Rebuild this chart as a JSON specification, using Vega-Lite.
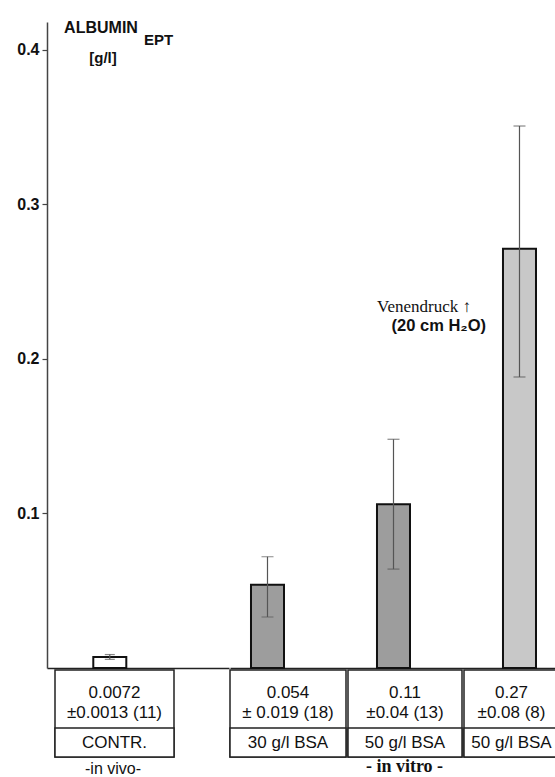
{
  "$schema": "https://vega.github.io/schema/vega-lite/v6.json",
  "padding": {"left": 13, "top": 20, "right": 0, "bottom": 0},
  "background": "white",
  "config": {
    "view": {"stroke": null},
    "concat": {"spacing": 0},
    "font": "Liberation Sans",
    "text": {"font": "Liberation Sans", "color": "#111"},
    "title": {"color": "#111"}
  },
  "datasets": {
    "albumin": [
      {"id": "contr", "group": "in vivo", "label": "CONTR.", "condition": "control", "value": 0.0071, "lo": 0.0056, "hi": 0.0087, "stats": "0.0072\n±0.0013 (11)"},
      {"id": "bsa30", "group": "in vitro", "label": "30 g/l BSA", "condition": "30 g/l BSA", "value": 0.0539, "lo": 0.033, "hi": 0.072, "stats": "0.054\n± 0.019 (18)"},
      {"id": "bsa50", "group": "in vitro", "label": "50 g/l BSA", "condition": "50 g/l BSA", "value": 0.1059, "lo": 0.064, "hi": 0.148, "stats": "0.11\n±0.04 (13)"},
      {"id": "bsa50v", "group": "in vitro", "label": "50 g/l BSA", "condition": "50 g/l BSA + Venendruck", "value": 0.2713, "lo": 0.1883, "hi": 0.3507, "stats": "0.27\n±0.08 (8)"}
    ]
  },
  "spacing": 0,
  "resolve": {"scale": {"x": "independent", "y": "independent"}},
  "hconcat": [
    {
      "spacing": 0,
      "resolve": {"scale": {"x": "independent", "y": "independent"}},
      "vconcat": [
        {
          "width": 182,
          "height": 646,
          "data": {"name": "albumin"},
          "transform": [{"filter": "datum.group === 'in vivo'"}],
          "encoding": {
            "x": {"field": "id", "type": "nominal", "title": null,
              "scale": {"paddingInner": 0.738, "paddingOuter": 0.5912, "align": 0.3107},
              "axis": {"labels": false, "ticks": false, "domainColor": "#222", "domainWidth": 1.5}}
          },
          "layer": [
            {
              "mark": {"type": "bar", "stroke": "#111", "strokeWidth": 2},
              "encoding": {
                "y": {"field": "value", "type": "quantitative", "title": null,
                  "scale": {"domain": [0, 0.418], "nice": false, "zero": true},
                  "axis": {"values": [0.1, 0.2, 0.3, 0.4], "format": ".1f", "grid": false,
                    "tickSize": 5, "tickColor": "#444", "tickWidth": 1.2,
                    "domainColor": "#444", "domainWidth": 1.5,
                    "labelPadding": 3, "labelFont": "Liberation Sans", "labelFontSize": 16,
                    "labelFontWeight": "bold", "labelColor": "#111",
                    "minExtent": 34, "maxExtent": 34}},
                "fill": {"field": "condition", "type": "nominal", "legend": null,
                  "scale": {"domain": ["control", "30 g/l BSA", "50 g/l BSA", "50 g/l BSA + Venendruck"],
                    "range": ["#ffffff", "#9d9d9d", "#9d9d9d", "#c8c8c8"]}}
              }
            },
            {
              "mark": {"type": "rule", "color": "#555", "strokeWidth": 1.2},
              "encoding": {
                "y": {"field": "lo", "type": "quantitative", "title": null},
                "y2": {"field": "hi"}
              }
            },
            {
              "mark": {"type": "tick", "color": "#555", "size": 10, "thickness": 1.2},
              "encoding": {"y": {"field": "lo", "type": "quantitative", "title": null}}
            },
            {
              "mark": {"type": "tick", "color": "#555", "size": 10, "thickness": 1.2},
              "encoding": {"y": {"field": "hi", "type": "quantitative", "title": null}}
            },
            {
              "mark": {"type": "text", "fontSize": 16, "fontWeight": "bold", "align": "center", "baseline": "middle", "dx": -8.8},
              "encoding": {"text": {"value": "ALBUMIN"}, "y": {"datum": 0.4138, "type": "quantitative", "title": null}}
            },
            {
              "mark": {"type": "text", "fontSize": 15, "fontWeight": "bold", "align": "left", "baseline": "middle", "dx": 34.2},
              "encoding": {"text": {"value": "EPT"}, "y": {"datum": 0.4063, "type": "quantitative", "title": null}}
            },
            {
              "mark": {"type": "text", "fontSize": 15, "fontWeight": "bold", "align": "center", "baseline": "middle", "dx": -6.8},
              "encoding": {"text": {"value": "[g/l]"}, "y": {"datum": 0.3947, "type": "quantitative", "title": null}}
            }
          ]
        },
        {
          "width": 182,
          "height": 87,
          "data": {"name": "albumin"},
          "transform": [{"filter": "datum.id === 'contr'"}],
          "title": {"text": "-in vivo-", "orient": "bottom", "anchor": "middle", "dx": -25, "offset": 3,
            "font": "Liberation Sans", "fontSize": 16, "fontWeight": "normal"},
          "encoding": {
            "x": {"field": "id", "type": "nominal", "axis": null,
              "scale": {"paddingInner": 0, "paddingOuter": 0.2647, "align": 0.127}}
          },
          "layer": [
            {"mark": {"type": "rect", "fill": "white", "stroke": "#222", "strokeWidth": 1.5}},
            {
              "mark": {"type": "rect", "fill": "white", "stroke": "#222", "strokeWidth": 1.5},
              "encoding": {"y": {"datum": "label", "type": "nominal", "axis": null,
                "scale": {"domain": ["a", "b", "label"], "paddingInner": 0, "paddingOuter": 0}}}
            },
            {
              "mark": {"type": "text", "fontSize": 17, "lineBreak": "\n", "lineHeight": 19.5, "baseline": "middle", "dy": -20.5},
              "encoding": {"text": {"field": "stats"}, "y": {"datum": "b", "type": "nominal", "axis": null}}
            },
            {
              "mark": {"type": "text", "fontSize": 17, "baseline": "middle"},
              "encoding": {"text": {"field": "label"}, "y": {"datum": "label", "type": "nominal", "axis": null}}
            }
          ]
        }
      ]
    },
    {
      "spacing": 0,
      "resolve": {"scale": {"x": "independent", "y": "independent"}},
      "vconcat": [
        {
          "width": 326,
          "height": 646,
          "data": {"name": "albumin"},
          "transform": [{"filter": "datum.group === 'in vitro'"}],
          "encoding": {
            "x": {"field": "id", "type": "nominal", "title": null, "sort": ["bsa30", "bsa50", "bsa50v"],
              "scale": {"paddingInner": 0.738, "paddingOuter": 0.1627, "align": 0.512},
              "axis": {"labels": false, "ticks": false, "domainColor": "#222", "domainWidth": 1.5}}
          },
          "layer": [
            {
              "mark": {"type": "bar", "stroke": "#111", "strokeWidth": 2},
              "encoding": {
                "y": {"field": "value", "type": "quantitative", "title": null, "axis": null,
                  "scale": {"domain": [0, 0.418], "nice": false, "zero": true}},
                "fill": {"field": "condition", "type": "nominal", "legend": null,
                  "scale": {"domain": ["control", "30 g/l BSA", "50 g/l BSA", "50 g/l BSA + Venendruck"],
                    "range": ["#ffffff", "#9d9d9d", "#9d9d9d", "#c8c8c8"]}}
              }
            },
            {
              "mark": {"type": "rule", "color": "#555", "strokeWidth": 1.2},
              "encoding": {
                "y": {"field": "lo", "type": "quantitative", "title": null, "axis": null},
                "y2": {"field": "hi"}
              }
            },
            {
              "mark": {"type": "tick", "color": "#555", "size": 12, "thickness": 1.2},
              "encoding": {"y": {"field": "lo", "type": "quantitative", "title": null, "axis": null}}
            },
            {
              "mark": {"type": "tick", "color": "#555", "size": 12, "thickness": 1.2},
              "encoding": {"y": {"field": "hi", "type": "quantitative", "title": null, "axis": null}}
            },
            {
              "transform": [{"filter": "datum.id === 'bsa50v'"}],
              "mark": {"type": "text", "font": "Liberation Serif", "fontSize": 17, "align": "right", "baseline": "middle", "dx": -48.5},
              "encoding": {"text": {"value": "Venendruck ↑"}, "y": {"datum": 0.2335, "type": "quantitative", "title": null, "axis": null}}
            },
            {
              "transform": [{"filter": "datum.id === 'bsa50v'"}],
              "mark": {"type": "text", "fontSize": 16.5, "fontWeight": "bold", "align": "right", "baseline": "middle", "dx": -33.5},
              "encoding": {"text": {"value": "(20 cm H₂O)"}, "y": {"datum": 0.2215, "type": "quantitative", "title": null, "axis": null}}
            }
          ]
        },
        {
          "spacing": 0,
          "resolve": {"scale": {"x": "independent", "y": "independent"}},
          "title": {"text": "- in vitro -", "orient": "bottom", "anchor": "middle", "dx": 10, "offset": 0,
            "font": "Liberation Serif", "fontSize": 18, "fontWeight": "bold"},
          "hconcat": [
            {
              "width": 116, "height": 87,
              "data": {"name": "albumin"},
              "transform": [{"filter": "datum.id === 'bsa30'"}],
              "layer": [
                {"mark": {"type": "rect", "fill": "white", "stroke": "#222", "strokeWidth": 1.5}},
                {
                  "mark": {"type": "rect", "fill": "white", "stroke": "#222", "strokeWidth": 1.5},
                  "encoding": {"y": {"datum": "label", "type": "nominal", "axis": null,
                    "scale": {"domain": ["a", "b", "label"], "paddingInner": 0, "paddingOuter": 0}}}
                },
                {
                  "mark": {"type": "text", "fontSize": 17, "lineBreak": "\n", "lineHeight": 19.5, "baseline": "middle", "dy": -20.5},
                  "encoding": {"text": {"field": "stats"}, "y": {"datum": "b", "type": "nominal", "axis": null}}
                },
                {
                  "mark": {"type": "text", "fontSize": 17, "baseline": "middle"},
                  "encoding": {"text": {"field": "label"}, "y": {"datum": "label", "type": "nominal", "axis": null}}
                }
              ]
            },
            {
              "width": 114, "height": 87,
              "data": {"name": "albumin"},
              "transform": [{"filter": "datum.id === 'bsa50'"}],
              "layer": [
                {"mark": {"type": "rect", "fill": "white", "stroke": "#222", "strokeWidth": 1.5}},
                {
                  "mark": {"type": "rect", "fill": "white", "stroke": "#222", "strokeWidth": 1.5},
                  "encoding": {"y": {"datum": "label", "type": "nominal", "axis": null,
                    "scale": {"domain": ["a", "b", "label"], "paddingInner": 0, "paddingOuter": 0}}}
                },
                {
                  "mark": {"type": "text", "fontSize": 17, "lineBreak": "\n", "lineHeight": 19.5, "baseline": "middle", "dy": -20.5},
                  "encoding": {"text": {"field": "stats"}, "y": {"datum": "b", "type": "nominal", "axis": null}}
                },
                {
                  "mark": {"type": "text", "fontSize": 17, "baseline": "middle"},
                  "encoding": {"text": {"field": "label"}, "y": {"datum": "label", "type": "nominal", "axis": null}}
                }
              ]
            },
            {
              "width": 95, "height": 87,
              "data": {"name": "albumin"},
              "transform": [{"filter": "datum.id === 'bsa50v'"}],
              "layer": [
                {"mark": {"type": "rect", "fill": "white", "stroke": "#222", "strokeWidth": 1.5}},
                {
                  "mark": {"type": "rect", "fill": "white", "stroke": "#222", "strokeWidth": 1.5},
                  "encoding": {"y": {"datum": "label", "type": "nominal", "axis": null,
                    "scale": {"domain": ["a", "b", "label"], "paddingInner": 0, "paddingOuter": 0}}}
                },
                {
                  "mark": {"type": "text", "fontSize": 17, "lineBreak": "\n", "lineHeight": 19.5, "baseline": "middle", "dy": -20.5},
                  "encoding": {"text": {"field": "stats"}, "y": {"datum": "b", "type": "nominal", "axis": null}}
                },
                {
                  "mark": {"type": "text", "fontSize": 17, "baseline": "middle"},
                  "encoding": {"text": {"field": "label"}, "y": {"datum": "label", "type": "nominal", "axis": null}}
                }
              ]
            }
          ]
        }
      ]
    }
  ]
}
